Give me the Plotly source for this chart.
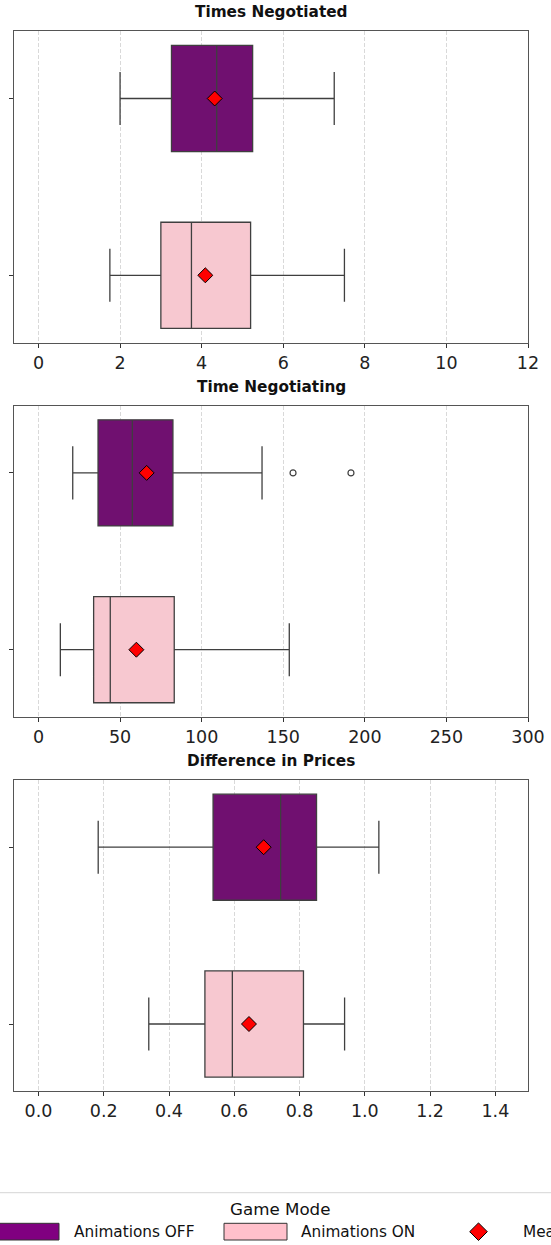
import plotly.graph_objects as go

# ---------------- data ----------------
groups = ["Animations OFF", "Animations ON"]
titles = ["Times Negotiated", "Time Negotiating", "Difference in Prices"]

tn_low = [2.0, 1.75]
tn_q1 = [3.26, 3.0]
tn_med = [4.37, 3.75]
tn_q3 = [5.25, 5.2]
tn_high = [7.25, 7.5]
tn_mean = [4.32, 4.09]
tn_out = [[], []]

tg_low = [21.0, 13.4]
tg_q1 = [36.5, 33.8]
tg_med = [57.5, 44.0]
tg_q3 = [82.4, 83.2]
tg_high = [137.0, 153.7]
tg_mean = [66.3, 60.0]
tg_out = [[156.0, 191.5], []]

dp_low = [0.183, 0.338]
dp_q1 = [0.535, 0.51]
dp_med = [0.742, 0.594]
dp_q3 = [0.852, 0.812]
dp_high = [1.043, 0.938]
dp_mean = [0.69, 0.645]
dp_out = [[], []]

x_ranges = [[-0.6, 12], [-15, 300], [-0.075, 1.5]]
x_ticks = [[0, 2, 4, 6, 8, 10, 12],
           [0, 50, 100, 150, 200, 250, 300],
           [0.0, 0.2, 0.4, 0.6, 0.8, 1.0, 1.2, 1.4]]
x_ticktext = [["0", "2", "4", "6", "8", "10", "12"],
              ["0", "50", "100", "150", "200", "250", "300"],
              ["0.0", "0.2", "0.4", "0.6", "0.8", "1.0", "1.2", "1.4"]]

box_fill = ["#701070", "#F7C8D0"]
legend_fill = ["#800080", "#FFC0CB"]
legend_title = "Game Mode"
mean_label = "Mean"

# ---------------- layout geometry (pixels) ----------------
W, H = 551, 1245
panel_tops = [31.3, 405.7, 780.0]
panel_h = 311.2
x_left, x_right = 14.0, 528.0

def py(v):
    return 1 - v / H

def px(v):
    return v / W

stats = [
    (tn_low, tn_q1, tn_med, tn_q3, tn_high, tn_mean, tn_out),
    (tg_low, tg_q1, tg_med, tg_q3, tg_high, tg_mean, tg_out),
    (dp_low, dp_q1, dp_med, dp_q3, dp_high, dp_mean, dp_out),
]

fig = go.Figure()
FONT = "DejaVu Sans"
edge = "#3f3f3f"

for p, (lo, q1, med, q3, hi, mn, outs) in enumerate(stats):
    xa = "x" if p == 0 else f"x{p+1}"
    ya = "y" if p == 0 else f"y{p+1}"
    for g in range(2):
        fig.add_trace(go.Box(
            y=[g], q1=[q1[g]], median=[med[g]], q3=[q3[g]],
            lowerfence=[lo[g]], upperfence=[hi[g]],
            orientation="h", width=0.6, whiskerwidth=0.5,
            fillcolor=box_fill[g], line=dict(color=edge, width=1.3),
            boxpoints=False, showlegend=False, xaxis=xa, yaxis=ya,
            name=groups[g]))
        if outs[g]:
            fig.add_trace(go.Scatter(
                x=outs[g], y=[g] * len(outs[g]), mode="markers",
                marker=dict(symbol="circle-open", size=6,
                            color=edge, line=dict(width=1.2, color=edge)),
                showlegend=False, xaxis=xa, yaxis=ya))
    fig.add_trace(go.Scatter(
        x=mn, y=[0, 1], mode="markers",
        marker=dict(symbol="diamond", size=11.5, color="red",
                    line=dict(color="black", width=1)),
        showlegend=False, xaxis=xa, yaxis=ya))

layout = dict(
    width=W, height=H, autosize=False, margin=dict(l=0, r=0, t=0, b=0),
    plot_bgcolor="white", paper_bgcolor="white",
    font=dict(family=FONT, color="#222"),
    showlegend=False,
)
for p in range(3):
    xk = "xaxis" if p == 0 else f"xaxis{p+1}"
    yk = "yaxis" if p == 0 else f"yaxis{p+1}"
    top = panel_tops[p]
    bot = top + panel_h
    layout[xk] = dict(
        domain=[px(x_left), px(x_right)], range=x_ranges[p],
        anchor="y" if p == 0 else f"y{p+1}",
        tickvals=x_ticks[p], ticktext=x_ticktext[p],
        ticks="outside", ticklen=4, tickwidth=1, tickcolor="#333",
        tickfont=dict(size=17.5, family=FONT, color="#222"),
        showgrid=True, gridcolor="#d9d9d9", griddash="4px,2px", gridwidth=0.8,
        showline=True, linecolor="#555", linewidth=1.2, mirror=True,
        zeroline=False, fixedrange=True, automargin=False)
    layout[yk] = dict(
        domain=[py(bot), py(top)], range=[1.38, -0.38],
        anchor="x" if p == 0 else f"x{p+1}",
        tickvals=[0, 1], showticklabels=False,
        ticks="outside", ticklen=4, tickwidth=1, tickcolor="#333",
        showgrid=False, zeroline=False,
        showline=True, linecolor="#555", linewidth=1.2, mirror=True,
        fixedrange=True, automargin=False)

annotations = []
for p in range(3):
    annotations.append(dict(
        x=px((x_left + x_right) / 2), y=py(panel_tops[p] - 19),
        xref="paper", yref="paper", text=f"<b>{titles[p]}</b>",
        showarrow=False, xanchor="center", yanchor="middle",
        font=dict(size=15.3, family=FONT, color="#111")))

# legend (drawn manually, matplotlib-like, wider than figure)
shapes = []
shapes.append(dict(type="line", xref="paper", yref="paper",
                   x0=0, x1=1, y0=py(1192.7), y1=py(1192.7),
                   line=dict(color="#dddddd", width=1.2)))
annotations.append(dict(x=px(279.5), y=py(1209), xref="paper", yref="paper",
                        text=legend_title, showarrow=False,
                        xanchor="center", yanchor="middle",
                        font=dict(size=16.7, family=FONT, color="#111")))
patch_x = [(-4, 59), (224, 287)]
text_x = [71.7, 299.4]
for g in range(2):
    shapes.append(dict(type="rect", xref="paper", yref="paper",
                       x0=px(patch_x[g][0]), x1=px(patch_x[g][1]),
                       y0=py(1240), y1=py(1223.3),
                       fillcolor=legend_fill[g],
                       line=dict(color="#333", width=1)))
    annotations.append(dict(x=px(text_x[g]), y=py(1232), xref="paper", yref="paper",
                            text=groups[g], showarrow=False,
                            xanchor="left", yanchor="middle",
                            font=dict(size=15.3, family=FONT, color="#111")))
cx, cy, r = 478.5, 1231.7, 8.8
path = (f"M {px(cx - r)},{py(cy)} L {px(cx)},{py(cy - r)} "
        f"L {px(cx + r)},{py(cy)} L {px(cx)},{py(cy + r)} Z")
shapes.append(dict(type="path", xref="paper", yref="paper", path=path,
                   fillcolor="red", line=dict(color="black", width=1)))
annotations.append(dict(x=px(521), y=py(1232), xref="paper", yref="paper",
                        text=mean_label, showarrow=False,
                        xanchor="left", yanchor="middle",
                        font=dict(size=15.3, family=FONT, color="#111")))

layout["annotations"] = annotations
layout["shapes"] = shapes
fig.update_layout(**layout)

post = ("document.documentElement.style.margin='0';"
        "document.documentElement.style.overflow='hidden';"
        "document.body.style.margin='0';"
        "document.body.style.overflow='hidden';"
        "Plotly.relayout('{plot_id}', {width: %d, height: %d});" % (W, H))

fig.write_html("out.html", config={"displayModeBar": False, "responsive": False},
               post_script=post)
